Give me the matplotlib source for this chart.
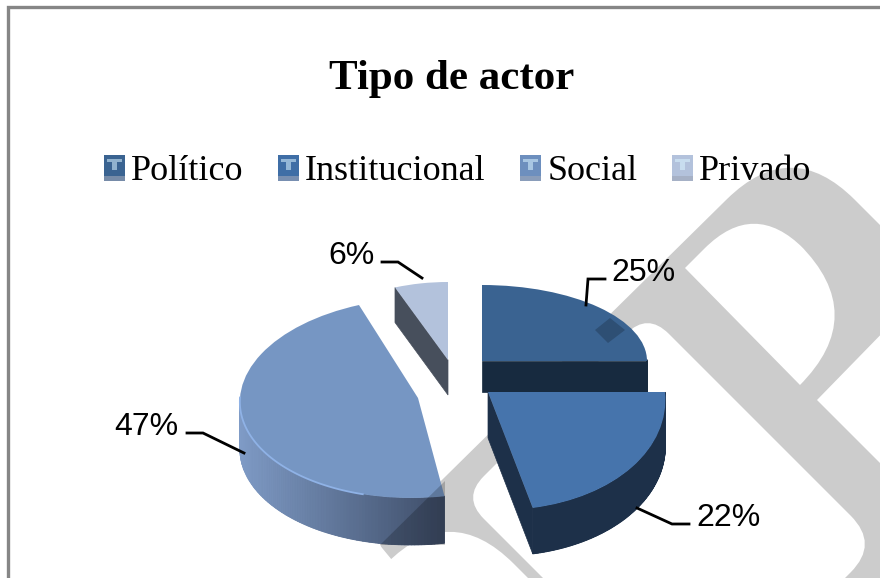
import numpy as np
import matplotlib
matplotlib.use("Agg")
import matplotlib.pyplot as plt
from matplotlib.patches import PathPatch, Patch, Rectangle, Polygon
from matplotlib.path import Path
from matplotlib.transforms import Affine2D
from matplotlib.legend_handler import HandlerBase
from matplotlib.colors import to_rgb, LinearSegmentedColormap
from matplotlib.font_manager import FontProperties

# ---- data
title = "Tipo de actor"
categories = ["Político", "Institucional", "Social", "Privado"]
values = [25, 22, 47, 6]

# ---- styles
top_colors = ["#3a6391", "#4674ac", "#7696c3", "#b3c2dc"]
face_colors = ["#172a3f", "#1d3049", "#34405a", "#474f5c"]
rim_left = ["#172a3f", "#1d3049", "#7f9bc6", "#474f5c"]
rim_right = ["#172a3f", "#1d3049", "#3e4d68", "#474f5c"]
legend_colors = ["#3a6391", "#3f6ea6", "#6d8fbe", "#b3c2dc"]

# per-slice projection: apex x, apex y, x radius, y radius, skew, depth
geometry = [
    (482, 361, 165, 76, 0.00, 31),
    (488, 392, 177, 118, 0.10, 46),
    (418, 398, 178, 100, -0.07, 47),
    (448, 360, 144, 78, 0.00, 35),
]

label_pos = [(643, 273), (729, 518), (146, 427), (351, 256)]
leaders = [
    [(605, 279), (588, 279), (586, 305)],
    [(689, 524), (672, 524), (637, 508)],
    [(187, 433), (203, 433), (244, 453)],
    [(382, 262), (398, 262), (422, 278)],
]

fig = plt.figure(figsize=(8.8, 5.78), dpi=100, facecolor="white")
ax = fig.add_axes([0, 0, 1, 1])


def rounded(points):
    """points: (x, y, d) corner list, d is the rounding distance."""
    verts, codes = [], []
    n = len(points)
    for i, (x, y, d) in enumerate(points):
        p = np.array([x, y], float)
        if d == 0:
            verts.append(p)
            codes.append(Path.LINETO)
            continue
        a = np.array(points[i - 1][:2], float)
        b = np.array(points[(i + 1) % n][:2], float)
        p0 = p + (a - p) / np.linalg.norm(a - p) * d
        p1 = p + (b - p) / np.linalg.norm(b - p) * d
        verts += [p0, p, p1]
        codes += [Path.LINETO, Path.CURVE3, Path.CURVE3]
    codes[0] = Path.MOVETO
    verts.append(verts[0])
    codes.append(Path.CLOSEPOLY)
    return Path(verts, codes)


# ---- pie (values drive the wedge angles)
wedges, _ = ax.pie(values, startangle=90, counterclock=False, radius=1, center=(0, 0), frame=False)
ax.set_aspect("auto")
ax.set_xlim(0, 880)
ax.set_ylim(578, 0)
ax.axis("off")

for i, w in enumerate(wedges):
    cx, cy, rx, ry, skew, depth = geometry[i]

    def proj(theta):
        t = np.radians(theta)
        dy = -ry * np.sin(t)
        return cx + rx * np.cos(t) + skew * dy, cy + dy

    z = 10 + i
    # radial cut faces that turn towards the viewer
    for th, sign in ((w.theta1, 1), (w.theta2, -1)):
        t = np.radians(th)
        if sign * -np.cos(t) < -1e-6:
            x1, y1 = proj(th)
            pts = [(cx, cy), (x1, y1), (x1, y1 + depth), (cx, cy + depth)]
            ax.add_patch(Polygon(pts, closed=True, fc=face_colors[i], ec=face_colors[i], lw=0.5, zorder=z))
    # outer rim, front part only
    ths = np.linspace(w.theta1, w.theta2, 160)
    ths = ths[np.sin(np.radians(ths)) < 0.02]
    if len(ths) > 1:
        cmap = LinearSegmentedColormap.from_list("rim", [rim_left[i], rim_right[i]])
        xs, ys = proj(ths)
        lo, hi = xs.min(), xs.max()
        ax.fill(np.r_[xs, xs[::-1]], np.r_[ys, ys[::-1] + depth], fc=cmap(0.5), ec="none", zorder=z)
        for k in range(len(ths) - 1):
            c = cmap((0.5 * (xs[k] + xs[k + 1]) - lo) / (hi - lo))
            ax.fill([xs[k], xs[k + 1], xs[k + 1], xs[k]],
                    [ys[k], ys[k + 1], ys[k + 1] + depth, ys[k] + depth],
                    fc=c, ec=c, lw=0.6, zorder=z)
        if i == 2:
            ax.plot(xs[:-25], ys[:-25], color="#8fb2e6", lw=1.3, zorder=z + 0.6)
    # top face
    w.set_transform(Affine2D(np.array([[rx, -skew * ry, cx],
                                       [0, -ry, cy],
                                       [0, 0, 1.0]])) + ax.transData)
    w.set_facecolor(top_colors[i])
    w.set_edgecolor("none")
    w.set_zorder(z + 0.5)

# ---- background watermark
GREY = "#cccccc"
outer = [(378, 543, 6), (791, 136, 90), (910, 255, 0), (910, 600, 0), (430, 600, 0), (392, 560, 0)]
holes = [
    [(685, 268, 0), (754, 199, 70), (870, 315, 100), (800, 385, 0)],
    [(817, 400, 0), (895, 320, 0), (895, 478, 0)],
    [(647.5, 312.5, 30), (879, 544, 40), (694, 729, 0), (462.5, 497.5, 30)],
    [(372, 578, 0), (450, 500, 90), (550, 600, 0), (372, 600, 0)],
]
ax.add_patch(PathPatch(rounded(outer), fc=GREY, ec="none", zorder=1))
for h in holes:
    ax.add_patch(PathPatch(rounded(h), fc="white", ec="none", zorder=2))

# parts of the watermark that show through the pie
for pts in ([(595, 330), (608, 343), (625, 330), (610, 318)], [(445, 481), (445, 545), (380, 545)]):
    ax.add_patch(Polygon(pts, closed=True, fc="black", ec="none", alpha=0.2, zorder=20))

# ---- chart frame
ax.plot([8, 8, 880], [578, 7, 7], color="#868686", lw=2.4, zorder=3, solid_joinstyle="miter")

# ---- labels and leaders
for i, v in enumerate(values):
    xs, ys = zip(*leaders[i])
    ax.plot(xs, ys, color="black", lw=2.0, zorder=25, solid_joinstyle="miter")
    x, y = label_pos[i]
    ax.text(x, y, f"{v}%", ha="center", va="center", fontsize=23,
            family="Liberation Sans", color="black", zorder=30)

ax.text(452, 89, title, ha="center", va="baseline", fontsize=31, fontweight="bold",
        family="Liberation Serif", color="black", zorder=30)


# ---- legend
class SwatchHandler(HandlerBase):
    def create_artists(self, legend, orig, xd, yd, width, height, fontsize, trans):
        base = np.array(to_rgb(orig.get_facecolor()))
        light = base + (np.array([0.85, 0.95, 1.0]) - base) * 0.55
        grey = base + (np.array([0.62, 0.65, 0.72]) - base) * 0.6
        x0, y0 = -xd, -yd
        arts = [
            Rectangle((x0, y0), width, height, fc=base, ec="none"),
            Rectangle((x0, y0), width, height * 0.2, fc=grey, ec="none"),
            Rectangle((x0 + width * 0.15, y0 + height * 0.72), width * 0.7, height * 0.14, fc=light, ec="none"),
            Rectangle((x0 + width * 0.38, y0 + height * 0.42), width * 0.24, height * 0.32, fc=light, ec="none"),
        ]
        for a in arts:
            a.set_transform(trans)
        return arts


handles = [Patch(facecolor=c, label=n) for c, n in zip(legend_colors, categories)]
leg = ax.legend(handles=handles, handler_map={Patch: SwatchHandler()}, ncol=4, loc="upper left",
                bbox_to_anchor=(104, 155), bbox_transform=ax.transData, frameon=False,
                borderpad=0, borderaxespad=0,
                prop=FontProperties(family="Liberation Serif", size=26),
                handlelength=0.58, handleheight=0.72, handletextpad=0.17, columnspacing=0.954)
leg.set_zorder(30)

fig.savefig("out.png", dpi=100, facecolor="white")
